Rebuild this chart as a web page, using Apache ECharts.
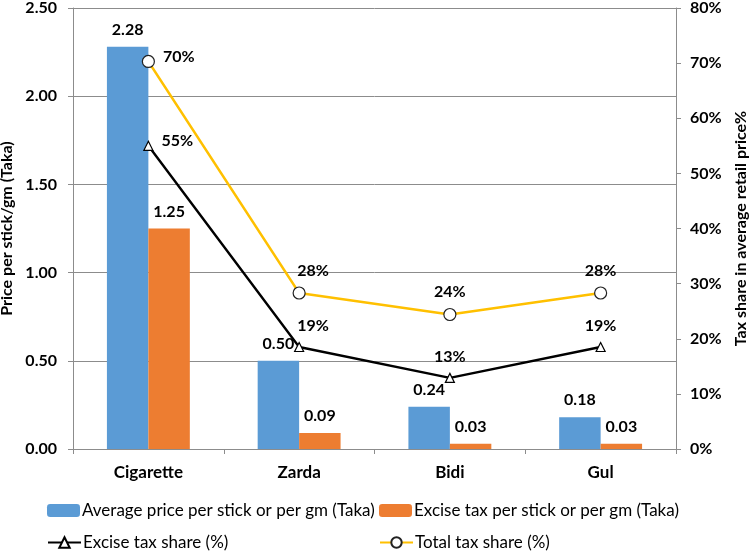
<!DOCTYPE html>
<html>
<head>
<meta charset="utf-8">
<script src="https://cdn.jsdelivr.net/npm/echarts@6/dist/echarts.min.js"></script>
<style>html,body{margin:0;padding:0;background:#fff;}#c{width:750px;height:552px;}</style>
</head>
<body>
<div id="c"></div>
<script>
const categories = ['Cigarette', 'Zarda', 'Bidi', 'Gul'];
const avgPrice = [2.28, 0.50, 0.24, 0.18];
const exciseTax = [1.25, 0.09, 0.03, 0.03];
const exciseShare = [55.0, 18.5, 12.9, 18.5];
const totalShare = [70.3, 28.3, 24.4, 28.3];
const leftTicks = { min: 0, max: 2.5, interval: 0.5 };
const rightTicks = { min: 0, max: 80, interval: 10 };
const seriesNames = [
  'Average price per stick or per gm (Taka)',
  'Excise tax per stick or per gm (Taka)',
  'Excise tax share (%)',
  'Total tax share (%)'
];

const FONT = 'Lato';
const chart = echarts.init(document.getElementById('c'));
const lblBold = { color: '#000', fontFamily: FONT, fontWeight: 'bold', fontSize: 16 };

function lineData(vals) {
  return vals.map((v, i) => i === 0
    ? { value: v, label: { position: 'right', distance: 8, offset: [0, -5] } }
    : { value: v, label: { position: 'top', distance: 8, offset: [i === 1 ? 14 : 0, 0] } });
}

function legendAt(name, left, top) {
  return {
    left: left, top: top, padding: 0, orient: 'horizontal', itemWidth: 33, itemHeight: 13,
    textStyle: { fontFamily: FONT, fontSize: 17, color: '#000', padding: [0, 0, 0, -3] },
    data: [name]
  };
}

chart.setOption({
  animation: false,
  backgroundColor: '#fff',
  grid: { left: 73, right: 74, top: 8, bottom: 103, containLabel: false, outerBoundsMode: 'none' },
  legend: [
    legendAt(seriesNames[0], 47, 502),
    legendAt(seriesNames[1], 379, 502),
    legendAt(seriesNames[2], 47, 534),
    legendAt(seriesNames[3], 379, 534)
  ],
  xAxis: {
    type: 'category', data: categories,
    axisLine: { lineStyle: { color: '#8c8c8c', width: 1 } },
    axisTick: { show: true, alignWithLabel: false, length: 5, lineStyle: { color: '#8c8c8c' } },
    axisLabel: { color: '#000', fontFamily: FONT, fontWeight: 'bold', fontSize: 17, margin: 15 }
  },
  yAxis: [
    {
      type: 'value', min: leftTicks.min, max: leftTicks.max, interval: leftTicks.interval,
      name: 'Price per stick/gm (Taka)', nameLocation: 'middle', nameGap: 51,
      nameTextStyle: { color: '#000', fontFamily: FONT, fontWeight: 'bold', fontSize: 16 },
      axisLine: { show: true, lineStyle: { color: '#8c8c8c' } },
      axisTick: { show: true, length: 5, lineStyle: { color: '#8c8c8c' } },
      splitLine: { show: true, lineStyle: { color: '#8c8c8c', width: 1 } },
      axisLabel: { color: '#000', fontFamily: FONT, fontWeight: 'bold', fontSize: 16, margin: 16,
        formatter: v => v.toFixed(2) }
    },
    {
      type: 'value', position: 'right', min: rightTicks.min, max: rightTicks.max, interval: rightTicks.interval,
      name: 'Tax share in average retail price%', nameLocation: 'middle', nameGap: 56,
      nameTextStyle: { color: '#000', fontFamily: FONT, fontWeight: 'bold', fontSize: 16 },
      axisLine: { show: true, lineStyle: { color: '#8c8c8c' } },
      axisTick: { show: true, length: 5, lineStyle: { color: '#8c8c8c' } },
      splitLine: { show: false },
      axisLabel: { color: '#000', fontFamily: FONT, fontWeight: 'bold', fontSize: 16, margin: 14,
        formatter: '{value}%' }
    }
  ],
  series: [
    {
      name: seriesNames[0], type: 'bar', yAxisIndex: 0,
      data: avgPrice, barGap: '0%', barCategoryGap: '45%',
      itemStyle: { color: '#5B9BD5' },
      label: Object.assign({ show: true, position: 'top', distance: 9, formatter: p => p.value.toFixed(2) }, lblBold)
    },
    {
      name: seriesNames[1], type: 'bar', yAxisIndex: 0,
      data: exciseTax, barGap: '0%', barCategoryGap: '45%',
      itemStyle: { color: '#ED7D31' },
      label: Object.assign({ show: true, position: 'top', distance: 9, formatter: p => p.value.toFixed(2) }, lblBold)
    },
    {
      name: seriesNames[2], type: 'line', yAxisIndex: 1,
      data: lineData(exciseShare),
      symbol: 'triangle', symbolSize: 9, showAllSymbol: true,
      lineStyle: { color: '#000', width: 2.4 },
      itemStyle: { color: '#fff', borderColor: '#000', borderWidth: 1.2 },
      label: Object.assign({ show: true, formatter: p => Math.round(p.value) + '%' }, lblBold),
      z: 5
    },
    {
      name: seriesNames[3], type: 'line', yAxisIndex: 1,
      data: lineData(totalShare),
      symbol: 'circle', symbolSize: 12, showAllSymbol: true,
      lineStyle: { color: '#FFC000', width: 2.4 },
      itemStyle: { color: '#fff', borderColor: '#222', borderWidth: 1.2 },
      label: Object.assign({ show: true, formatter: p => Math.round(p.value) + '%' }, lblBold),
      z: 5
    }
  ]
});
</script>
</body>
</html>
